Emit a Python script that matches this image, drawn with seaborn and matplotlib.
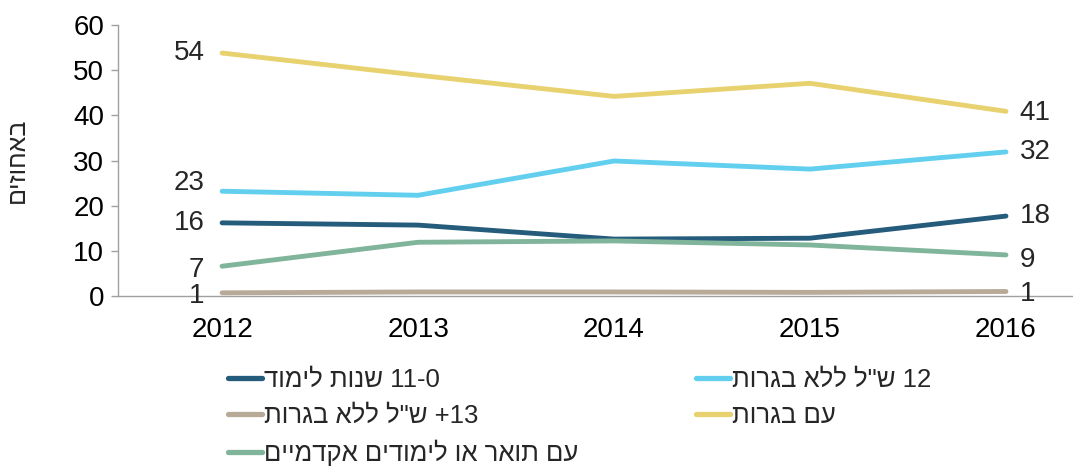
import re
import numpy as np
import pandas as pd
import matplotlib
matplotlib.use("Agg")
import matplotlib.pyplot as plt
import seaborn as sns

# -------------------------------
# Data
# -------------------------------
years = ["2012", "2013", "2014", "2015", "2016"]

series_names = [
    "0-11 שנות לימוד",
    "13+ ש\"ל ללא בגרות",
    "עם תואר או לימודים אקדמיים",
    "12 ש\"ל ללא בגרות",
    "עם בגרות",
]
colors = ["#255b7b", "#b8aa98", "#80b49b", "#62cfee", "#e8d26f"]

yrs_0_11 = [16.2, 15.7, 12.6, 12.8, 17.7]
yrs_13_plus = [0.7, 0.9, 0.9, 0.8, 1.0]
academic = [6.6, 11.9, 12.2, 11.3, 9.1]
yrs_12 = [23.2, 22.3, 29.9, 28.1, 31.9]
bagrut = [53.8, 48.9, 44.2, 47.1, 40.9]

# label offsets (left, right) in y units so the numbers don't sit on lines
label_nudge = {
    "0-11 שנות לימוד": (0.0, 0.0),
    "13+ ש\"ל ללא בגרות": (-0.6, -0.5),
    "עם תואר או לימודים אקדמיים": (-0.8, -1.2),
    "12 ש\"ל ללא בגרות": (1.8, 0.0),
    "עם בגרות": (0.0, -0.3),
}

y_label = "באחוזים"


def visual(s):
    # matplotlib has no bidi: reverse the hebrew, keep digit runs left-to-right
    r = s[::-1]
    return re.sub(r"\d+", lambda m: m.group(0)[::-1], r)


values = [yrs_0_11, yrs_13_plus, academic, yrs_12, bagrut]
df = pd.DataFrame({
    "year": np.tile(np.arange(len(years)), len(series_names)),
    "value": np.concatenate(values),
    "series": np.repeat([visual(n) for n in series_names], len(years)),
})

# -------------------------------
# Plot
# -------------------------------
sns.set_style("white")
plt.rcParams["font.family"] = ["Liberation Sans", "DejaVu Sans"]

fig = plt.figure(figsize=(10.73, 4.68), dpi=100)
ax = fig.add_axes([0.110, 0.3675, 0.89, 0.579])

sns.lineplot(data=df, x="year", y="value", hue="series",
             hue_order=[visual(n) for n in series_names],
             palette=colors, linewidth=3.5, ax=ax, legend=True,
             solid_capstyle="round")

ax.set_xlim(-0.531, 4.342)
ax.set_ylim(0, 60)
ax.set_yticks(range(0, 61, 10))
ax.set_xticks(range(len(years)))
ax.set_xticklabels(years)
ax.tick_params(axis="both", labelsize=20, colors="black")
ax.tick_params(axis="y", length=5, width=1, color="#a0a0a0", direction="out",
               left=True, pad=5)
ax.tick_params(axis="x", length=0, pad=15)
ax.set_xlabel("")
ax.set_ylabel(visual(y_label), fontsize=18, labelpad=32)

for side in ["top", "right"]:
    ax.spines[side].set_visible(False)
for side in ["left", "bottom"]:
    ax.spines[side].set_color("#a0a0a0")
    ax.spines[side].set_linewidth(1.0)

# end labels
for name, vals in zip(series_names, values):
    dl, dr = label_nudge[name]
    ax.text(-0.09, vals[0] + dl, f"{round(vals[0])}", ha="right", va="center", fontsize=20)
    ax.text(4.07, vals[-1] + dr, f"{round(vals[-1])}", ha="left", va="center", fontsize=20)

# legend below the plot
handles, labels = ax.get_legend_handles_labels()
ax.get_legend().remove()
for h in handles:
    h.set_linewidth(3.8)
fig.legend(handles, labels, ncol=2, loc="upper left",
           bbox_to_anchor=(0.2125, 0.214), frameon=False, fontsize=18.5,
           handlelength=1.32, handletextpad=0.08, columnspacing=4.6,
           labelspacing=0.46, borderaxespad=0, borderpad=0)

fig.savefig("out.png", dpi=100)
